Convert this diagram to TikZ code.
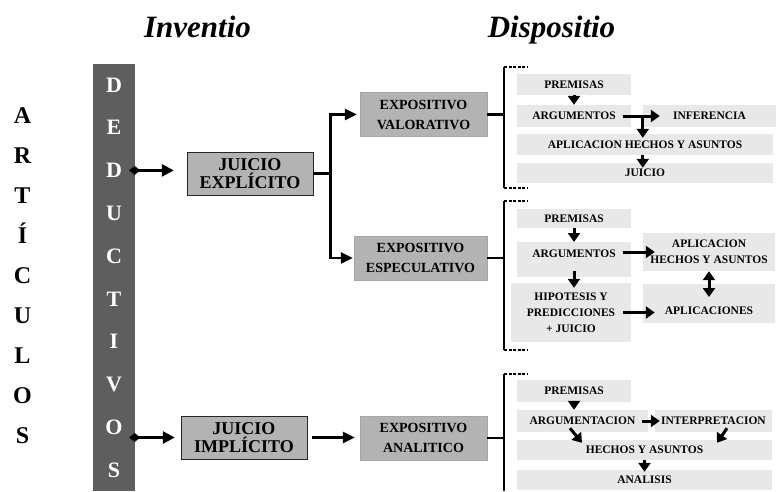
\documentclass[tikz,border=0pt]{standalone}
\usepackage{fontspec}
\setmainfont{Liberation Serif}
\usepackage{tikz}
\usetikzlibrary{positioning,arrows.meta}
\definecolor{bardark}{HTML}{5E5E5E}
\definecolor{boxgray}{HTML}{B3B3B3}
\definecolor{rowgray}{HTML}{E8E8E8}
\tikzset{
  font=\bfseries
}

\begin{document}
\begin{tikzpicture}[x=1pt,y=-1pt,
  bar/.style={rectangle,fill=bardark,inner sep=0pt},
  barletter/.style={text=white,inner sep=0pt,font=\fontsize{22}{22}\selectfont\bfseries},
  sideletter/.style={inner sep=0pt,font=\fontsize{24}{24}\selectfont\bfseries},
  title/.style={inner sep=0pt,font=\fontsize{31}{31}\selectfont\bfseries\itshape},
  juicio/.style={rectangle,draw=black!85,fill=boxgray,inner sep=0pt,minimum width=126pt,minimum height=43pt,align=center,font=\fontsize{18}{17.5}\selectfont\bfseries},
  expo/.style={rectangle,draw=black!35,fill=boxgray,inner sep=0pt,minimum height=44pt,align=center,font=\fontsize{14}{20}\selectfont\bfseries},
  row/.style={rectangle,fill=rowgray,inner sep=0pt,align=center,font=\fontsize{11.5}{16}\selectfont\bfseries},
  link/.style={line width=2.8pt},
  dots/.style={line width=2.8pt,dash pattern=on 3pt off 1.5pt},
  arr/.style={line width=2.6pt,-{Triangle[length=12pt,width=11pt]}},
  diamarr/.style={line width=2.6pt,{Diamond[length=11pt,width=9pt]}-{Triangle[length=12pt,width=12pt]}},
  garr/.style={line width=3pt,-{Triangle[length=9pt,width=12pt]}}
]
\useasboundingbox (0,0) rectangle (776,491);

% titles
\node[title,anchor=base] (inventio) at (197.5,37) {Inventio};
\node[title,anchor=base] (dispositio) at (551.5,37) {Dispositio};

% left column
\foreach \l [count=\i] in {A,R,T,Í,C,U,L,O,S}
  \node[sideletter,anchor=base] (s\i) at (22.5,{123+40*(\i-1)}) {\l};
\node[bar,minimum width=42pt,minimum height=427pt,anchor=north] (bar) at (114,64) {};
\foreach \l [count=\i] in {D,E,D,U,C,T,I,V,O,S}
  \node[barletter,anchor=base] (d\i) at (114,{92+42.8*(\i-1)}) {\l};

% inventio boxes
\node[juicio] (jexp) at (250,173.5) {JUICIO\\EXPLÍCITO};
\node[juicio] (jimp) at (244,437.5) {JUICIO\\IMPLÍCITO};
\node[expo,minimum width=127pt] (expval) at (423.5,114.5) {EXPOSITIVO\\VALORATIVO};
\node[expo,minimum width=133pt] (expesp) at (420.5,258) {EXPOSITIVO\\ESPECULATIVO};
\node[expo,minimum width=127pt] (expana) at (423.5,438) {EXPOSITIVO\\ANALITICO};

\draw[diamarr,shorten <=-6pt,shorten >=13pt] (d3.center -| bar.east) -- (d3.center -| jexp.west);
\draw[diamarr,shorten <=-6pt,shorten >=6pt] (jimp.west -| bar.east) -- (jimp.west);
\draw[arr,shorten <=5pt,shorten >=5pt] (jimp.east) -- (jimp.east -| expana.west);

\coordinate (fork) at ([xshift=17pt]jexp.east);
\draw[link] (jexp.east) -- (fork);
\draw[arr,shorten >=3pt] (fork) |- (expval.west);
\draw[arr,shorten >=1pt] (fork) |- (expesp.west);

% brackets
\coordinate (br1t) at (504,67);
\coordinate (br1b) at (504,188);
\coordinate (br2t) at (504,201);
\coordinate (br2b) at (504,350);
\coordinate (br3t) at (504,374);
\coordinate (br3b) at (504,491);
\draw[link] (br1t) -- (br1b);
\draw[link] (br2t) -- (br2b);
\draw[link] (br3t) -- (br3b);
\draw[dots] (br1t) -- ++(24,0);
\draw[dots] (br1b) -- ++(24,0);
\draw[dots] (br2t) -- ++(24,0);
\draw[dots] (br2b) -- ++(24,0);
\draw[dots] (br3t) -- ++(24,0);
\draw[link] (expval.east) -- (expval.east -| br1t);
\draw[link] (expesp.east) -- (expesp.east -| br2t);
\draw[link] (expana.east) -- (expana.east -| br3t);

% dispositio: valorativo
\node[row,minimum width=114pt,minimum height=21pt] (p1) at (574,84.5) {PREMISAS};
\node[row,minimum width=114pt,minimum height=22pt] (a1) at (574,116) {ARGUMENTOS};
\node[row,minimum width=133pt,minimum height=22pt] (i1) at (709.5,116) {INFERENCIA};
\node[row,minimum width=256pt,minimum height=21pt] (h1) at (645,144.5) {APLICACION HECHOS Y ASUNTOS};
\node[row,minimum width=256pt,minimum height=20pt] (j1) at (645,173) {JUICIO};
\draw[garr] (p1.south) -- (a1.north);
\draw[garr] ([xshift=-8pt]a1.east) -- ([xshift=17pt]i1.west);
\draw[garr] (i1.west) -- ([yshift=-4pt]i1.west |- h1.north);
\draw[garr] (h1.south -| i1.west) -- ([yshift=-5pt]i1.west |- j1.north);

% dispositio: especulativo
\node[row,minimum width=114pt,minimum height=19pt] (p2) at (574,218.5) {PREMISAS};
\node[row,minimum width=114pt,text height=15pt,text depth=20pt,anchor=north] (a2) at (574,242) {ARGUMENTOS};
\node[row,minimum width=120pt,minimum height=59pt] (hip2) at (571,312.5) {HIPOTESIS Y\\PREDICCIONES\\+ JUICIO};
\node[row,minimum width=132pt,minimum height=38pt] (ah2) at (709,252) {APLICACION\\HECHOS Y ASUNTOS};
\node[row,minimum width=132pt,text height=30pt,text depth=9pt,anchor=north] (apl2) at (709,284) {APLICACIONES};
\draw[garr] (p2.south) -- (a2.north);
\draw[garr] ([xshift=-8pt]a2.east |- ah2.west) -- ([xshift=12pt]ah2.west);
\draw[garr] ([yshift=6pt]a2.south) -- ([yshift=-5pt]a2.south |- hip2.north);
\draw[garr,{Triangle[length=9pt,width=12pt]}-{Triangle[length=9pt,width=12pt]}] (ah2.south) -- ([yshift=-13pt]apl2.north);
\draw[garr] ([xshift=-8pt]hip2.east) -- ([xshift=12pt]hip2.east -| apl2.west);

% dispositio: analitico
\node[row,minimum width=114pt,minimum height=22pt] (p3) at (574,391) {PREMISAS};
\node[row,minimum width=131pt,minimum height=22pt] (a3) at (582.5,421) {ARGUMENTACION};
\node[row,minimum width=117pt,minimum height=22pt] (i3) at (713.5,421) {INTERPRETACION};
\node[row,minimum width=255pt,minimum height=20pt] (h3) at (644.5,450) {HECHOS Y ASUNTOS};
\node[row,minimum width=255pt,minimum height=20pt] (an3) at (644.5,480) {ANALISIS};
\draw[garr] (p3.south) -- (p3.south |- a3.north);
\draw[garr] ([xshift=-6pt]a3.east) -- ([xshift=5pt]i3.west);
\draw[garr] ([xshift=-12.5pt,yshift=4pt]a3.south) -- ([xshift=-62.5pt,yshift=-3pt]h3.north);
\draw[garr] ([xshift=13.5pt,yshift=4pt]i3.south) -- ([xshift=72.5pt,yshift=-3pt]h3.north);
\draw[garr] (h3.south) -- ([yshift=-2pt]an3.north);
\end{tikzpicture}
\end{document}
